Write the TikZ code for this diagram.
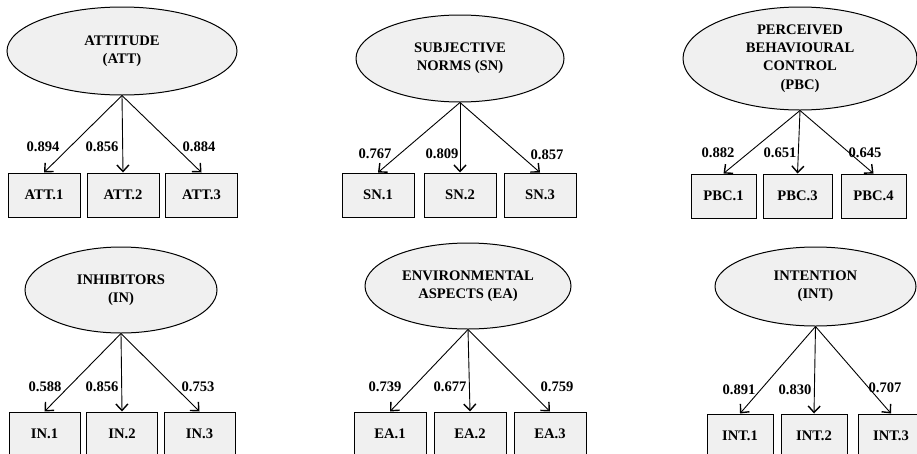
\documentclass[tikz,border=0pt]{standalone}
\usepackage{fontspec}
\setmainfont{Liberation Serif}
\usetikzlibrary{shapes.geometric,arrows.meta}
\definecolor{boxfill}{HTML}{F0F0F0}
\tikzset{
  latent/.style={ellipse, draw, line width=1pt, fill=boxfill, inner sep=0pt, align=center},
  item/.style={rectangle, draw, line width=1pt, fill=boxfill, inner sep=0pt, minimum height=44pt},
  load/.style={inner sep=0pt},
  path/.style={line width=0.9pt, -{Straight Barb[length=6.5pt,width=12pt,line width=1.4pt]}},
}
\begin{document}
\begin{tikzpicture}[x=1pt,y=-1pt,font=\bfseries\fontsize{14.6}{18.2}\selectfont]
\useasboundingbox (0,0) rectangle (917,453);
\clip (0,0) rectangle (917,453);

% ---- Attitude ----
\node[latent, minimum width=230pt, minimum height=88pt] (att) at (122,51) {ATTITUDE\\(ATT)};
\node[item, minimum width=72pt] (att1) at (44,195) {ATT.1};
\node[item, minimum width=72pt] (att2) at (123,195) {ATT.2};
\node[item, minimum width=72pt] (att3) at (201.5,195) {ATT.3};
\draw[path] (att.south) -- (att1.north);
\draw[path] (att.south) -- (att2.north);
\draw[path] (att.south) -- (att3.north);
\node[load] (latt1) at (43,147) {0.894};
\node[load] (latt2) at (102,147) {0.856};
\node[load] (latt3) at (199,147) {0.884};

% ---- Subjective norms ----
\node[latent, minimum width=208pt, minimum height=87pt] (sn) at (460,58.5) {SUBJECTIVE\\NORMS (SN)};
\node[item, minimum width=72pt] (sn1) at (378,195) {SN.1};
\node[item, minimum width=72pt] (sn2) at (460,195) {SN.2};
\node[item, minimum width=72pt] (sn3) at (540,195) {SN.3};
\draw[path] (sn.south) -- (sn1.north);
\draw[path] (sn.south) -- (sn2.north);
\draw[path] (sn.south) -- (sn3.north);
\node[load] (lsn1) at (375,154) {0.767};
\node[load] (lsn2) at (442,154) {0.809};
\node[load] (lsn3) at (547,155) {0.857};

% ---- Perceived behavioural control ----
\node[latent, minimum width=234pt, minimum height=103pt] (pbc) at (800,58.5) {PERCEIVED\\BEHAVIOURAL\\CONTROL\\(PBC)};
\node[item, minimum width=65pt] (pbc1) at (723.5,196) {PBC.1};
\node[item, minimum width=69pt] (pbc3) at (797.5,196) {PBC.3};
\node[item, minimum width=65pt] (pbc4) at (873.5,196) {PBC.4};
\draw[path] (pbc.south) -- (pbc1.north);
\draw[path] (pbc.south) -- (pbc3.north);
\draw[path] (pbc.south) -- (pbc4.north);
\node[load] (lpbc1) at (718,153) {0.882};
\node[load] (lpbc3) at (780,153) {0.651};
\node[load] (lpbc4) at (865,153) {0.645};

% ---- Inhibitors ----
\node[latent, minimum width=192pt, minimum height=86pt] (in) at (121,290) {INHIBITORS\\(IN)};
\node[item, minimum width=71pt] (in1) at (44.5,434) {IN.1};
\node[item, minimum width=71pt] (in2) at (122,434) {IN.2};
\node[item, minimum width=71pt] (in3) at (199.5,434) {IN.3};
\draw[path] (in.south) -- (in1.north);
\draw[path] (in.south) -- (in2.north);
\draw[path] (in.south) -- (in3.north);
\node[load] (lin1) at (45,387) {0.588};
\node[load] (lin2) at (102,387) {0.856};
\node[load] (lin3) at (198,387) {0.753};

% ---- Environmental aspects ----
\node[latent, minimum width=206pt, minimum height=86pt] (ea) at (468,286) {ENVIRONMENTAL\\ASPECTS (EA)};
\node[item, minimum width=72pt] (ea1) at (390,434) {EA.1};
\node[item, minimum width=72pt] (ea2) at (470,434) {EA.2};
\node[item, minimum width=72pt] (ea3) at (550,434) {EA.3};
\draw[path] (ea.south) -- (ea1.north);
\draw[path] (ea.south) -- (ea2.north);
\draw[path] (ea.south) -- (ea3.north);
\node[load] (lea1) at (385,387) {0.739};
\node[load] (lea2) at (450,387) {0.677};
\node[load] (lea3) at (557,387) {0.759};

% ---- Intention ----
\node[latent, minimum width=201pt, minimum height=79pt] (int) at (815.5,286.5) {INTENTION\\(INT)};
\node[item, minimum width=66pt] (int1) at (740,436) {INT.1};
\node[item, minimum width=66pt] (int2) at (814,436) {INT.2};
\node[item, minimum width=66pt] (int3) at (891,436) {INT.3};
\draw[path] (int.south) -- (int1.north);
\draw[path] (int.south) -- (int2.north);
\draw[path] (int.south) -- (int3.north);
\node[load] (lint1) at (739,390) {0.891};
\node[load] (lint2) at (795,390) {0.830};
\node[load] (lint3) at (885,388) {0.707};
\end{tikzpicture}
\end{document}
